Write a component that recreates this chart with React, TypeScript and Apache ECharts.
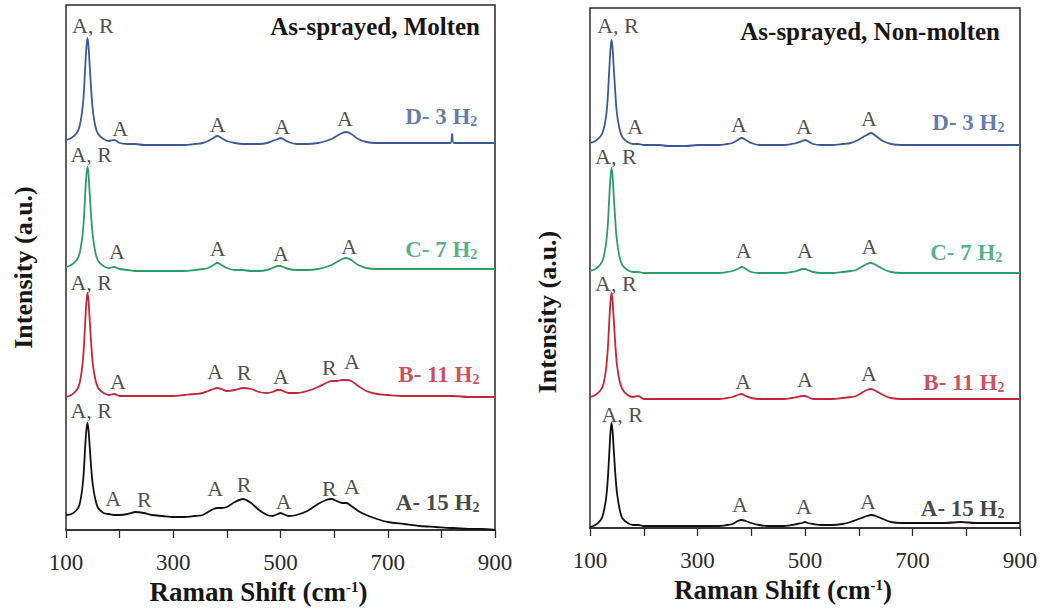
import React, { useEffect, useRef } from 'react';
import * as echarts from 'echarts';

// Shared Raman shift grid (cm-1)
const ramanShift = [
  100, 110, 120, 125, 130, 133, 136, 138, 140, 142, 144, 147, 150, 155, 160,
  170, 180, 190, 200, 215, 230, 245, 260, 280, 300, 320, 340, 355, 365, 375,
  382, 390, 400, 415, 430, 445, 460, 475, 485, 495, 500, 505, 515, 530, 550,
  570, 585, 595, 605, 615, 623, 632, 645, 660, 680, 700, 730, 760, 790, 817,
  820, 823, 850, 875, 900,
];

// As-sprayed, Molten (stacked intensity, a.u.)
const moltenD = [
  390, 392, 397, 403, 418, 435, 465, 482, 492, 484, 466, 440, 420, 403, 396,
  391, 389, 390, 387, 386, 386, 385, 385, 385, 385, 385, 386, 387, 389, 392,
  394, 392, 389, 387, 386, 386, 386, 387, 389, 391, 392, 391, 388, 386, 386,
  387, 389, 391, 394, 397, 398, 396, 391, 388, 387, 387, 387, 387, 387, 387,
  396, 387, 387, 387, 387,
];
const moltenC = [
  263, 265, 270, 276, 291, 308, 338, 355, 363, 356, 338, 313, 294, 277, 269,
  264, 262, 263, 261, 260, 259, 259, 259, 259, 259, 259, 260, 261, 262, 265,
  267, 265, 262, 260, 260, 259, 259, 260, 262, 264, 264, 263, 261, 260, 260,
  261, 263, 265, 268, 271, 272, 270, 265, 262, 261, 261, 261, 261, 261, 261,
  261, 261, 261, 261, 261,
];
const moltenB = [
  133, 135, 140, 146, 162, 180, 210, 228, 237, 229, 212, 186, 166, 150, 142,
  137, 135, 136, 134, 134, 134, 134, 134, 134, 134, 135, 136, 137, 139, 141,
  142, 141, 139, 140, 142, 141, 138, 137, 138, 140, 140, 139, 137, 137, 139,
  143, 147, 149, 149, 150, 150, 149, 144, 139, 136, 135, 134, 134, 134, 134,
  134, 134, 133, 133, 133,
];
const moltenA = [
  15, 16, 20, 25, 40, 57, 85, 100, 107, 100, 85, 62, 45, 30, 22,
  17, 16, 15, 15, 16, 18, 17, 15, 14, 13, 13, 14, 15, 18, 21,
  22, 22, 23, 28, 31, 27, 20, 15, 14, 16, 17, 16, 14, 15, 19,
  26, 30, 31, 29, 27, 27, 24, 19, 15, 11, 8, 6, 4, 3, 2,
  2, 2, 1, 1, 0,
];

// As-sprayed, Non-molten
const nonMoltenD = [
  385, 387, 392, 398, 412, 430, 460, 478, 488, 480, 462, 436, 415, 399, 391,
  386, 384, 384, 383, 383, 383, 382, 382, 382, 383, 383, 383, 384, 385, 388,
  390, 388, 385, 383, 383, 383, 383, 384, 385, 387, 388, 387, 384, 383, 383,
  384, 385, 387, 390, 393, 395, 392, 387, 384, 383, 383, 383, 383, 383, 383,
  383, 383, 383, 383, 383,
];
const nonMoltenC = [
  257, 259, 264, 270, 285, 302, 332, 350, 360, 352, 334, 308, 288, 271, 263,
  258, 256, 256, 255, 255, 255, 255, 255, 255, 255, 255, 255, 256, 257, 259,
  261, 259, 256, 255, 255, 255, 255, 256, 257, 259, 259, 258, 256, 255, 255,
  256, 257, 258, 261, 264, 265, 263, 259, 256, 255, 255, 255, 255, 255, 255,
  255, 255, 255, 255, 255,
];
const nonMoltenB = [
  131, 133, 138, 144, 160, 178, 208, 226, 235, 227, 210, 184, 164, 147, 139,
  133, 131, 132, 129, 129, 129, 129, 129, 129, 129, 129, 129, 130, 131, 133,
  134, 132, 130, 129, 129, 129, 129, 130, 131, 132, 132, 131, 129, 129, 129,
  130, 131, 132, 135, 138, 139, 137, 133, 130, 129, 129, 129, 129, 129, 129,
  129, 129, 129, 129, 129,
];
const nonMoltenA = [
  1, 3, 8, 15, 30, 48, 76, 95, 105, 97, 80, 55, 36, 19, 10,
  5, 3, 3, 2, 2, 2, 2, 2, 2, 2, 2, 2, 3, 4, 7,
  8, 7, 5, 3, 2, 2, 2, 3, 4, 5, 6, 5, 4, 3, 3,
  4, 6, 8, 10, 12, 13, 12, 9, 6, 5, 5, 5, 5, 6, 5,
  5, 5, 5, 5, 5,
];

const sampleNames = ['D- 3 H2', 'C- 7 H2', 'B- 11 H2', 'A- 15 H2'];
const panelTitles = ['As-sprayed, Molten', 'As-sprayed, Non-molten'];
const tickLabels = [100, 300, 500, 700, 900];

// Phase annotations [shift, intensity, text]
const moltenPeakLabels: [number, number, string][] = [
  [150, 505, 'A, R'], [201, 402, 'A'], [383, 406, 'A'], [503, 404, 'A'], [620, 412, 'A'],
  [147, 376, 'A, R'], [195, 279, 'A'], [383, 282, 'A'], [501, 277, 'A'], [628, 284, 'A'],
  [147, 248, 'A, R'], [197, 149, 'A'], [378, 159, 'A'], [432, 158, 'R'], [501, 154, 'A'], [591, 163, 'R'], [633, 169, 'A'],
  [147, 120, 'A, R'], [188, 32, 'A'], [246, 31, 'R'], [378, 42, 'A'], [432, 46, 'R'], [506, 29, 'A'], [591, 42, 'R'], [633, 44, 'A'],
];
const nonMoltenPeakLabels: [number, number, string][] = [
  [152, 503, 'A, R'], [184, 402, 'A'], [377, 404, 'A'], [498, 402, 'A'], [619, 410, 'A'],
  [148, 372, 'A, R'], [386, 278, 'A'], [500, 278, 'A'], [620, 282, 'A'],
  [148, 245, 'A, R'], [385, 147, 'A'], [500, 149, 'A'], [619, 155, 'A'],
  [160, 114, 'A, R'], [379, 24, 'A'], [498, 22, 'A'], [617, 27, 'A'],
];
// Sample name anchors (right edge) [shift, intensity]
const moltenNamePos = [[868, 414], [868, 281], [872, 156], [872, 28]];
const nonMoltenNamePos = [[872, 406], [868, 276], [872, 146], [872, 20]];

const SERIF = 'Liberation Serif';
const lineColors = ['#3a5996', '#2c9c68', '#c3263a', '#111111'];
const textColors = ['#3a5996', '#2c9c68', '#bf2030', '#161616'];

function pairs(ys: number[]) {
  return ramanShift.map((x, i) => [x, ys[i]]);
}

function buildPanel(idx: number, spectra: number[][], peakLabels: [number, number, string][], namePos: number[][]) {
  const series: any[] = [];
  spectra.forEach((ys, k) => {
    series.push({
      type: 'line',
      name: sampleNames[k],
      xAxisIndex: idx,
      yAxisIndex: idx,
      data: pairs(ys),
      showSymbol: false,
      smooth: 0.3,
      lineStyle: { color: lineColors[k], width: 1.8 },
      itemStyle: { color: lineColors[k] },
      silent: true,
      z: 3,
    });
  });
  series.push({
    type: 'scatter',
    name: 'phase-' + idx,
    xAxisIndex: idx,
    yAxisIndex: idx,
    data: peakLabels,
    symbolSize: 1,
    itemStyle: { color: 'rgba(0,0,0,0)' },
    silent: true,
    z: 5,
    label: {
      show: true,
      position: 'inside',
      formatter: (p: any) => p.data[2],
      fontFamily: SERIF,
      fontSize: 22,
      color: '#1e1e1e',
    },
  });
  series.push({
    type: 'scatter',
    name: 'names-' + idx,
    xAxisIndex: idx,
    yAxisIndex: idx,
    symbolSize: 1,
    itemStyle: { color: 'rgba(0,0,0,0)' },
    silent: true,
    z: 5,
    data: namePos.map((pos, k) => {
      const s = sampleNames[k];
      return {
        value: pos,
        label: {
          show: true,
          position: 'left',
          distance: 0,
          formatter: `{n|${s.slice(0, -1)}}{s|${s.slice(-1)}}`,
          rich: {
            n: { fontFamily: SERIF, fontSize: 23, fontWeight: 'bold', color: textColors[k], lineHeight: 26 },
            s: { fontFamily: SERIF, fontSize: 14, fontWeight: 'bold', color: textColors[k], lineHeight: 15, padding: [10, 0, 0, 0] },
          },
        },
      };
    }),
  });
  return series;
}

export default function App() {
  const ref = useRef<HTMLDivElement>(null);
  useEffect(() => {
    if (!ref.current) return;
    const chart = echarts.init(ref.current, undefined, { renderer: 'svg' });
    const xAxisBase = (gridIndex: number) => ({
      type: 'value',
      gridIndex,
      min: 100,
      max: 900,
      interval: 100,
      name: '{m|Raman Shift (cm}{sup|-1}{m|)}',
      nameLocation: 'middle',
      nameGap: 47,
      nameTextStyle: {
        padding: [0, 44, 0, 0],
        rich: {
          m: { fontFamily: SERIF, fontSize: 27, fontWeight: 'bold', color: '#161616', lineHeight: 30 },
          sup: { fontFamily: SERIF, fontSize: 15, fontWeight: 'bold', color: '#161616', lineHeight: 16, padding: [0, 0, 10, 0] },
        },
      },
      axisLine: { show: true, lineStyle: { color: '#2a2a2a', width: 1.5 } },
      axisTick: { show: true, inside: false, length: 8, lineStyle: { color: '#2a2a2a', width: 1.3 } },
      axisLabel: {
        margin: 21,
        fontFamily: SERIF,
        fontSize: 23,
        color: '#2a2a2a',
        formatter: (v: number) => (tickLabels.indexOf(v) >= 0 ? String(v) : ''),
      },
      splitLine: { show: false },
    });
    const yAxisBase = (gridIndex: number, max: number, padBottom: number) => ({
      type: 'value',
      gridIndex,
      min: 0,
      max,
      name: 'Intensity (a.u.)',
      nameLocation: 'middle',
      nameRotate: 90,
      nameGap: 30,
      nameTextStyle: {
        fontFamily: SERIF,
        fontSize: 26,
        fontWeight: 'bold',
        color: '#161616',
        padding: [0, padBottom, 0, 0],
      },
      axisLine: { show: false },
      axisTick: { show: false },
      axisLabel: { show: false },
      splitLine: { show: false },
    });
    const option: any = {
      animation: false,
      backgroundColor: '#ffffff',
      title: [
        {
          text: panelTitles[0],
          right: 557,
          top: 9,
          textStyle: { fontFamily: SERIF, fontSize: 25, fontWeight: 'bold', color: '#161616' },
        },
        {
          text: panelTitles[1],
          right: 37,
          top: 14,
          textStyle: { fontFamily: SERIF, fontSize: 25, fontWeight: 'bold', color: '#161616' },
        },
      ],
      grid: [
        { left: 66, top: 5, width: 429, height: 525, show: true, borderColor: '#2a2a2a', borderWidth: 1.5, backgroundColor: 'transparent' },
        { left: 590, top: 8, width: 430, height: 520, show: true, borderColor: '#2a2a2a', borderWidth: 1.5, backgroundColor: 'transparent' },
      ],
      xAxis: [xAxisBase(0), xAxisBase(1)],
      yAxis: [yAxisBase(0, 525, 0), yAxisBase(1, 520, 88)],
      series: [
        ...buildPanel(0, [moltenD, moltenC, moltenB, moltenA], moltenPeakLabels, moltenNamePos),
        ...buildPanel(1, [nonMoltenD, nonMoltenC, nonMoltenB, nonMoltenA], nonMoltenPeakLabels, nonMoltenNamePos),
      ],
    };
    chart.setOption(option);
    return () => chart.dispose();
  }, []);
  return (
    <div
      ref={ref}
      style={{ position: 'fixed', left: 0, top: 0, width: 1042, height: 615, background: '#fff' }}
    />
  );
}
